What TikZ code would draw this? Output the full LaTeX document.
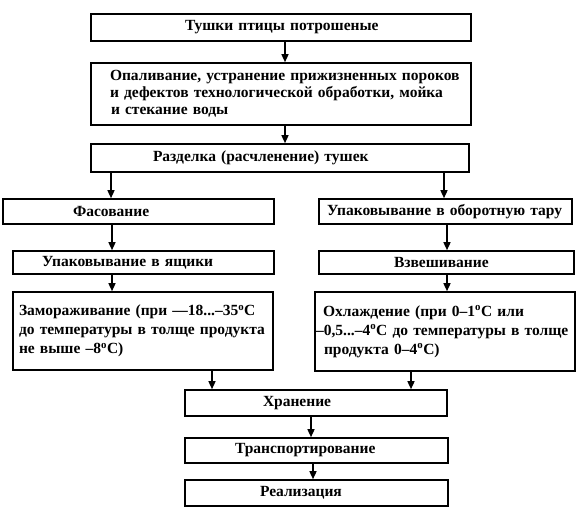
\documentclass[tikz,border=0pt]{standalone}
\usepackage{fontspec}
\setmainfont{Liberation Serif}
\usetikzlibrary{arrows.meta}
\newcommand\myind[1]{\hspace*{#1pt}}
\newcommand\mydeg{\textsuperscript{o}}
\begin{document}
\begin{tikzpicture}[x=1pt,y=-1pt,
  box/.style={draw,line width=1.6pt,inner xsep=0pt,inner ysep=0pt,align=left,
    font=\bfseries\fontsize{15.5}{19}\selectfont},
  arr/.style={line width=1.4pt,-{Triangle[length=8pt,width=7pt]}}]
\useasboundingbox (0,0) rectangle (588,521);
\fill[white] (0,0) rectangle (588,521);
\node[box,text width=380pt,minimum height=27pt] (b1) at (281,27.5) {\myind{94}Тушки птицы потрошеные};
\node[box,text width=380pt,minimum height=62pt,font=\bfseries\fontsize{15.5}{17}\selectfont] (b2) at (281,94)
 {\myind{19}Опаливание, устранение прижизненных пороков\\\myind{19}и дефектов технологической обработки, мойка\\\myind{20}и стекание воды};
\node[box,text width=378pt,minimum height=28pt] (b3) at (280,158) {\myind{62}Разделка (расчленение) тушек};
\node[box,text width=271pt,minimum height=25pt] (b4) at (138.5,211.5) {\myind{70}Фасование};
\node[box,text width=253pt,minimum height=25pt] (b5) at (445.5,211.5) {\myind{8}Упаковывание в оборотную тару};
\node[box,text width=261pt,minimum height=23pt] (b6) at (143.5,262.5) {\myind{29}Упаковывание в ящики};
\node[box,text width=255pt,minimum height=23pt] (b7) at (446.5,262.5) {\myind{75}Взвешивание};
\node[box,text width=260pt,minimum height=78pt] (b8) at (143,331)
 {\myind{6}Замораживание (при —18...–35\mydeg C\\\myind{6}до температуры в толще продукта\\\myind{6}не выше –8\mydeg C)};
\node[box,text width=260pt,minimum height=79pt] (b9) at (445,331.5)
 {\myind{8}Охлаждение (при 0–1\mydeg C или\\\myind{1}–0,5...–4\mydeg C до температуры в толще\\\myind{9}продукта 0–4\mydeg C)};
\node[box,text width=262pt,minimum height=26pt] (b10) at (316,403) {\myind{78}Хранение};
\node[box,text width=263pt,minimum height=25pt] (b11) at (316.5,450.5) {\myind{50}Транспортирование};
\node[box,text width=263pt,minimum height=26pt] (b12) at (316.5,493) {\myind{75}Реализация};
\coordinate (xa) at (285,0);
\coordinate (xl) at (111,0);
\coordinate (xl2) at (112,0);
\coordinate (xr) at (444,0);
\coordinate (xr2) at (447,0);
\coordinate (xf) at (212,0);
\coordinate (xc) at (411,0);
\coordinate (xh) at (311,0);
\coordinate (xt) at (313,0);
\draw[arr] (b1.south -| xa) -- (b2.north -| xa);
\draw[arr] (b2.south -| xa) -- (b3.north -| xa);
\draw[arr] (b3.south -| xl) -- (b4.north -| xl);
\draw[arr] (b3.south -| xr) -- (b5.north -| xr);
\draw[arr] (b4.south -| xl2) -- (b6.north -| xl2);
\draw[arr] (b5.south -| xr2) -- (b7.north -| xr2);
\draw[arr] (b6.south -| xl2) -- (b8.north -| xl2);
\draw[arr] (b7.south -| xr2) -- (b9.north -| xr2);
\draw[arr] (b8.south -| xf) -- (b10.north -| xf);
\draw[arr] (b9.south -| xc) -- (b10.north -| xc);
\draw[arr] (b10.south -| xh) -- (b11.north -| xh);
\draw[arr] (b11.south -| xt) -- (b12.north -| xt);
\end{tikzpicture}
\end{document}
